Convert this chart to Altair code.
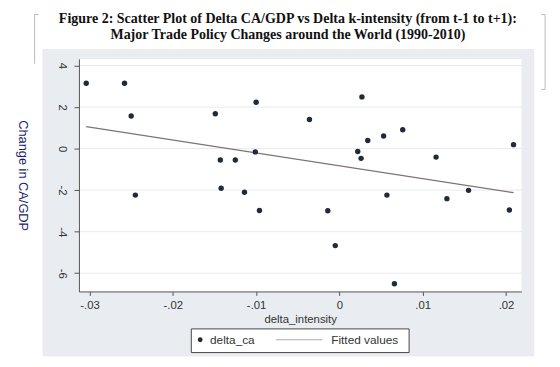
import altair as alt
import pandas as pd

# ---- data ----
delta_intensity = [-0.0304, -0.0258, -0.0250, -0.0245, -0.0149, -0.0143, -0.0125, -0.0142,
                   -0.0114, -0.0100, -0.0101, -0.0096, 0.0027, -0.0036, 0.0076, 0.0053,
                   0.0034, 0.0022, 0.0026, 0.0116, 0.0209, 0.0057, 0.0129, 0.0155,
                   0.0204, -0.0014, -0.0005, 0.0066]
delta_ca = [3.15, 3.15, 1.57, -2.24, 1.68, -0.55, -0.55, -1.91,
            -2.10, 2.23, -0.16, -2.98, 2.49, 1.40, 0.91, 0.61,
            0.39, -0.14, -0.47, -0.41, 0.19, -2.24, -2.41, -2.01,
            -2.96, -2.99, -4.67, -6.51]
x_ticks = [-0.03, -0.02, -0.01, 0.0, 0.01, 0.02]
y_ticks = [-6, -4, -2, 0, 2, 4]
title_lines = ["Figure 2: Scatter Plot of Delta CA/GDP vs Delta k-intensity (from t-1 to t+1):",
               "Major Trade Policy Changes around the World (1990-2010)"]
legend_labels = ["delta_ca", "Fitted values"]

df = pd.DataFrame({"delta_intensity": delta_intensity, "delta_ca": delta_ca})
grid_df = pd.DataFrame({"y": y_ticks})
one = alt.Data(values=[{"a": 1}])

W, H = 449, 236
PANEL = "#e9edf1"
DOT = "#1d2b3a"
LINE = "#7d7274"

xs = alt.Scale(domain=[-0.03127, 0.02185], nice=False, zero=False)
ys = alt.Scale(domain=[-6.88, 4.32], nice=False, zero=False)

x_axis = alt.Axis(values=x_ticks, title="delta_intensity", grid=False,
                  labelExpr="datum.value == 0 ? '0' : replace(replace(format(datum.value, '.2f'), '\u2212', '-'), '0.', '.')",
                  labelFont="Liberation Sans", labelFontSize=11.5, labelColor="#333333",
                  titleFont="Liberation Sans", titleFontSize=11.5, titleFontWeight="normal",
                  titleColor="#333333", titlePadding=3,
                  domainColor="#555555", tickColor="#555555", tickSize=4, labelPadding=4,
                  zindex=1)
y_axis = alt.Axis(values=y_ticks, title="Change in CA/GDP", grid=False,
                  labelExpr="replace(format(datum.value, 'd'), '\u2212', '-')",
                  labelAngle=90, labelAlign="center", labelBaseline="top",
                  labelFont="Liberation Sans", labelFontSize=11.5, labelColor="#333333",
                  titleFont="Liberation Sans", titleFontSize=13, titleFontWeight="normal",
                  titleColor="#1a1d66", titleAngle=90, titleX=-57, titleY=118,
                  titleAlign="center", titleBaseline="middle",
                  domainColor="#555555", tickColor="#555555", tickSize=5, labelPadding=7,
                  zindex=1)

panel = alt.Chart(one).mark_rect(color=PANEL).encode(
    x=alt.value(-37), x2=alt.value(462), y=alt.value(-10), y2=alt.value(302))
plotbg = alt.Chart(one).mark_rect(color="white").encode(
    x=alt.value(0), x2=alt.value(W), y=alt.value(0), y2=alt.value(H))

grid = alt.Chart(grid_df).mark_rule(color="#e6eaee", strokeWidth=1).encode(
    y=alt.Y("y:Q", scale=ys, axis=y_axis))

fit = alt.Chart(df).transform_regression("delta_intensity", "delta_ca").mark_line(
    color=LINE, strokeWidth=1.2).encode(
    x=alt.X("delta_intensity:Q", scale=xs, axis=x_axis),
    y=alt.Y("delta_ca:Q", scale=ys, axis=y_axis))

pts = alt.Chart(df).mark_circle(color=DOT, opacity=1, size=30).encode(
    x=alt.X("delta_intensity:Q", scale=xs, axis=x_axis),
    y=alt.Y("delta_ca:Q", scale=ys, axis=y_axis))

# title as two text lines
TFS = 14.2
t1 = alt.Chart(one).mark_text(align="center", baseline="middle", font="Liberation Serif",
                              fontSize=TFS, fontWeight="bold", color="#111111",
                              text=title_lines[0]).encode(x=alt.value(212), y=alt.value(-40))
t2 = alt.Chart(one).mark_text(align="center", baseline="middle", font="Liberation Serif",
                              fontSize=TFS, fontWeight="bold", color="#111111",
                              text=title_lines[1]).encode(x=alt.value(212), y=alt.value(-24))

# legend box (decoration)
LY = 285
leg_box = alt.Chart(one).mark_rect(fill="white", stroke="#444444", strokeWidth=1).encode(
    x=alt.value(114), x2=alt.value(335), y=alt.value(274), y2=alt.value(298))
leg_dot = alt.Chart(one).mark_circle(color=DOT, opacity=1, size=24).encode(
    x=alt.value(123), y=alt.value(LY))
leg_line = alt.Chart(one).mark_rule(color="#aaaaaa", strokeWidth=1).encode(
    x=alt.value(200), x2=alt.value(247), y=alt.value(LY))
leg_t1 = alt.Chart(one).mark_text(align="left", baseline="middle", font="Liberation Sans",
                                  fontSize=12, color="#333333", text=legend_labels[0]).encode(
    x=alt.value(133), y=alt.value(LY))
leg_t2 = alt.Chart(one).mark_text(align="left", baseline="middle", font="Liberation Sans",
                                  fontSize=12, color="#333333", text=legend_labels[1]).encode(
    x=alt.value(256), y=alt.value(LY))

# faint brackets around the title
BR = "#bbbbbb"
br = [
    alt.Chart(one).mark_rule(color=BR).encode(x=alt.value(-45), y=alt.value(-45), y2=alt.value(5)),
    alt.Chart(one).mark_rule(color=BR).encode(x=alt.value(-45), x2=alt.value(-41), y=alt.value(-45)),
    alt.Chart(one).mark_rule(color=BR).encode(x=alt.value(473), y=alt.value(-45), y2=alt.value(31)),
    alt.Chart(one).mark_rule(color=BR).encode(x=alt.value(469), x2=alt.value(473), y=alt.value(-45)),
    alt.Chart(one).mark_rule(color=BR).encode(x=alt.value(469), x2=alt.value(473), y=alt.value(31)),
]

chart = alt.layer(panel, plotbg, grid, fit, pts, t1, t2, leg_box, leg_dot, leg_line,
                  leg_t1, leg_t2, *br).properties(
    width=W, height=H,
    autosize=alt.AutoSizeParams(type="none"),
    padding={"left": 72, "top": 49, "right": 31, "bottom": 74},
).configure_view(stroke=None).configure(background="white")

chart.save("out.html", embed_options={"renderer": "svg", "actions": False})
